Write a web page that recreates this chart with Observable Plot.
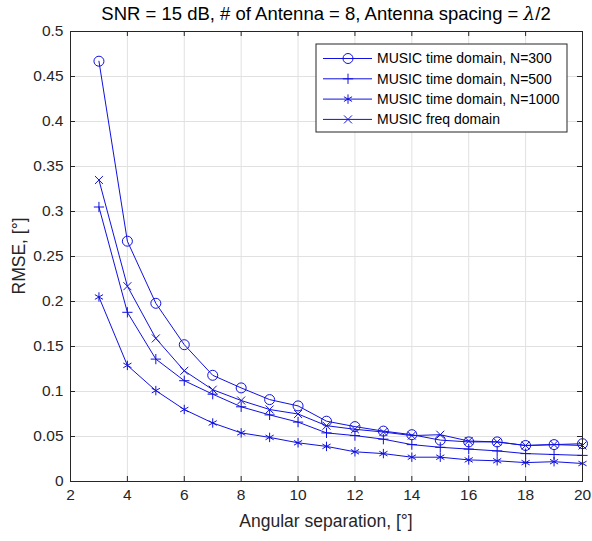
<!DOCTYPE html>
<html>
<head>
<meta charset="utf-8">
<script src="https://cdn.jsdelivr.net/npm/d3@7"></script>
<script src="https://cdn.jsdelivr.net/npm/@observablehq/plot@0.6"></script>
<style>
  html, body { margin: 0; padding: 0; background: #fff; }
  #chart { width: 592px; height: 541px; }
</style>
</head>
<body>
<div id="chart"></div>
<script>
// ---- data ----
const angles = [3, 4, 5, 6, 7, 8, 9, 10, 11, 12, 13, 14, 15, 16, 17, 18, 19, 20];
const rmseTimeN300  = [0.467, 0.267, 0.198, 0.152, 0.118, 0.104, 0.091, 0.084, 0.067, 0.061, 0.056, 0.052, 0.046, 0.044, 0.044, 0.040, 0.041, 0.042];
const rmseTimeN500  = [0.305, 0.188, 0.136, 0.112, 0.097, 0.083, 0.074, 0.066, 0.054, 0.051, 0.047, 0.041, 0.038, 0.036, 0.034, 0.031, 0.030, 0.029];
const rmseTimeN1000 = [0.205, 0.129, 0.101, 0.080, 0.065, 0.054, 0.049, 0.043, 0.039, 0.033, 0.031, 0.027, 0.027, 0.024, 0.023, 0.021, 0.022, 0.020];
const rmseFreq      = [0.335, 0.217, 0.159, 0.123, 0.102, 0.090, 0.080, 0.075, 0.062, 0.058, 0.055, 0.051, 0.052, 0.045, 0.044, 0.040, 0.041, 0.040];

const seriesNames = [
  "MUSIC time domain, N=300",
  "MUSIC time domain, N=500",
  "MUSIC time domain, N=1000",
  "MUSIC freq domain"
];
const seriesValues = [rmseTimeN300, rmseTimeN500, rmseTimeN1000, rmseFreq];
const seriesSymbols = ["circle", "plus", "asterisk", "times"];
const seriesSizes = [5, 3.4, 4.45, 3.7];

const xTicks = [2, 4, 6, 8, 10, 12, 14, 16, 18, 20];
const yTicks = [0, 0.05, 0.1, 0.15, 0.2, 0.25, 0.3, 0.35, 0.4, 0.45, 0.5];

const titleText = "SNR = 15 dB, # of Antenna = 8, Antenna spacing = ";
const xLabel = "Angular separation, [°]";
const yLabel = "RMSE, [°]";

// ---- layout ----
const W = 592, H = 541;
const mL = 70, mR = 10, mT = 31, mB = 60;
const innerH = H - mT - mB, innerW = W - mL - mR;
const blue = "#1010e0";
const axisColor = "#262626";
const gridColor = "#e1e1e1";
const font = "'Liberation Sans', Arial, Helvetica, sans-serif";

const rows = seriesNames.flatMap((name, s) =>
  angles.map((a, i) => ({series: name, angle: a, rmse: seriesValues[s][i]}))
);

const marks = [
  Plot.gridX(xTicks, {stroke: gridColor, strokeOpacity: 1}),
  Plot.gridY(yTicks, {stroke: gridColor, strokeOpacity: 1}),
  Plot.line(rows, {x: "angle", y: "rmse", z: "series", stroke: blue, strokeWidth: 1})
];
seriesNames.forEach((name, s) => {
  marks.push(Plot.dot(rows.filter(d => d.series === name), {
    x: "angle", y: "rmse", symbol: () => seriesSymbols[s], r: seriesSizes[s],
    stroke: blue, fill: "none", strokeWidth: 1
  }));
});
marks.push(
  // inward ticks on all four sides
  Plot.tickX(xTicks, {x: d => d, insetTop: innerH - 5, stroke: axisColor}),
  Plot.tickX(xTicks, {x: d => d, insetBottom: innerH - 5, stroke: axisColor}),
  Plot.tickY(yTicks, {y: d => d, insetRight: innerW - 5, stroke: axisColor}),
  Plot.tickY(yTicks, {y: d => d, insetLeft: innerW - 5, stroke: axisColor}),
  Plot.frame({stroke: axisColor, strokeWidth: 1}),
  Plot.axisX(xTicks, {anchor: "bottom", tickSize: 0, tickPadding: 7, label: null, fill: axisColor, fontSize: 15.5}),
  Plot.axisY(yTicks, {anchor: "left", tickSize: 0, tickPadding: 7, label: null, fill: axisColor, fontSize: 15.5,
    tickFormat: d => String(+d.toFixed(2))})
);

const chart = Plot.plot({
  width: W, height: H,
  marginLeft: mL, marginRight: mR, marginTop: mT, marginBottom: mB,
  x: {domain: [2, 20]},
  y: {domain: [0, 0.5]},
  style: {fontFamily: font, fontSize: "15.5px", background: "#fff", color: axisColor, overflow: "visible"},
  marks
});

const svg = d3.select(chart);

// title
const t = svg.append("text")
  .attr("x", mL + innerW / 2).attr("y", 20)
  .attr("text-anchor", "middle")
  .attr("font-family", font).attr("font-size", 18.5).attr("fill", "#000")
  .text(titleText);
t.append("tspan").attr("font-family", "'DejaVu Serif', 'Liberation Serif', serif").attr("font-style", "italic").text("λ");
t.append("tspan").text("/2");

// axis labels
svg.append("text")
  .attr("x", mL + innerW / 2).attr("y", H - 14)
  .attr("text-anchor", "middle")
  .attr("font-family", font).attr("font-size", 17.5).attr("fill", axisColor)
  .text(xLabel);
svg.append("text")
  .attr("transform", `translate(25,${mT + innerH / 2}) rotate(-90)`)
  .attr("text-anchor", "middle")
  .attr("font-family", font).attr("font-size", 17.5).attr("fill", axisColor)
  .text(yLabel);

// legend
const lg = {x: 316, y: 44, w: 251, h: 88, row0: 58.5, dy: 20.3};
const legend = svg.append("g").attr("text-anchor", "start");
legend.append("rect")
  .attr("x", lg.x).attr("y", lg.y).attr("width", lg.w).attr("height", lg.h)
  .attr("fill", "#fff").attr("stroke", axisColor).attr("stroke-width", 1);
const symMap = {circle: d3.symbolCircle, plus: d3.symbolPlus, asterisk: d3.symbolAsterisk, times: d3.symbolTimes};
seriesNames.forEach((name, s) => {
  const yy = lg.row0 + s * lg.dy;
  legend.append("line").attr("x1", lg.x + 7).attr("x2", lg.x + 56).attr("y1", yy).attr("y2", yy)
    .attr("stroke", blue).attr("stroke-width", 1);
  const r = seriesSizes[s];
  legend.append("path")
    .attr("transform", `translate(${lg.x + 32},${yy})`)
    .attr("d", d3.symbol(symMap[seriesSymbols[s]], Math.PI * r * r)())
    .attr("fill", "none").attr("stroke", blue).attr("stroke-width", 1);
  legend.append("text")
    .attr("x", lg.x + 61).attr("y", yy).attr("dy", "0.35em")
    .attr("text-anchor", "start")
    .attr("font-family", font).attr("font-size", 14).attr("fill", "#000")
    .text(name);
});

document.getElementById("chart").appendChild(chart);
</script>
</body>
</html>
